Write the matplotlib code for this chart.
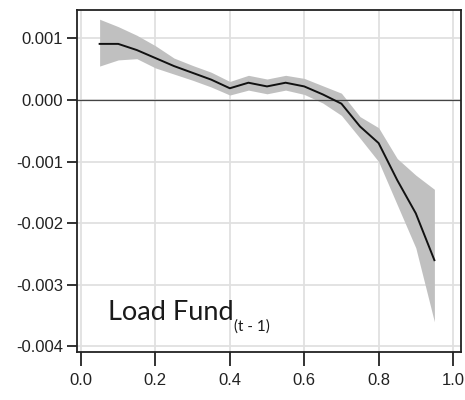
import matplotlib
matplotlib.use("Agg")
import matplotlib.pyplot as plt

# Quantile levels and estimated coefficient with its confidence band
quantiles = [0.05, 0.10, 0.15, 0.20, 0.25, 0.30, 0.35, 0.40, 0.45, 0.50,
             0.55, 0.60, 0.65, 0.70, 0.75, 0.80, 0.85, 0.90, 0.95]
coef = [0.00091, 0.00091, 0.00081, 0.00068, 0.00055, 0.00044, 0.00033, 0.00019,
        0.00028, 0.00022, 0.00028, 0.00022, 0.00009, -0.00006, -0.00043, -0.00070,
        -0.00130, -0.00184, -0.00260]
upper = [0.00131, 0.00119, 0.00105, 0.00088, 0.00068, 0.00056, 0.00045, 0.00030,
         0.00040, 0.00034, 0.00040, 0.00035, 0.00023, 0.00011, -0.00027, -0.00045,
         -0.00095, -0.00122, -0.00145]
lower = [0.00055, 0.00065, 0.00067, 0.00052, 0.00042, 0.00032, 0.00021, 0.00008,
         0.00016, 0.00010, 0.00016, 0.00009, -0.00005, -0.00025, -0.00062, -0.00100,
         -0.00170, -0.00240, -0.00360]

xticks = [0.0, 0.2, 0.4, 0.6, 0.8, 1.0]
yticks = [0.001, 0.000, -0.001, -0.002, -0.003, -0.004]
ytick_labels = ["0.001", "0.000", "-0.001", "-0.002", "-0.003", "-0.004"]
label_main = "Load Fund"
label_sub = "(t - 1)"

plt.rcParams['font.family'] = ['Liberation Sans', 'DejaVu Sans']

fig = plt.figure(figsize=(4.65, 4.0), dpi=100)
ax = fig.add_axes([0.1656, 0.12, 0.8258, 0.855])

ax.fill_between(quantiles, lower, upper, color="#c0c0c0", linewidth=0, zorder=2)
ax.plot(quantiles, coef, color="#111111", linewidth=1.4, zorder=3)
ax.axhline(0, color="#444444", linewidth=0.9, zorder=2.5)

ax.set_xlim(-0.0108, 1.0215)
ax.set_ylim(-0.00409, 0.00146)
ax.set_xticks(xticks)
ax.set_xticklabels([f"{v:.1f}" for v in xticks])
ax.set_yticks(yticks)
ax.set_yticklabels(ytick_labels)

ax.grid(True, color="#e0e0e0", linewidth=1.3, zorder=1)
ax.set_axisbelow(True)

for s in ax.spines.values():
    s.set_linewidth(1.3)
    s.set_color("#222222")

ax.tick_params(axis="x", length=10, width=1.3, pad=5, labelsize=12, colors="#222222")
ax.tick_params(axis="y", length=7, width=1.3, pad=3, labelsize=12, colors="#222222")

t1 = ax.text(0.08, 0.094, label_main, transform=ax.transAxes, fontsize=19.5,
             family=["Lato", "DejaVu Sans"], color="#1a1a1a", ha="left", va="baseline")
ax.annotate(label_sub, xy=(1, 0), xycoords=t1, xytext=(0.5, 4),
            textcoords="offset points", fontsize=11, family=["Lato", "DejaVu Sans"],
            color="#1a1a1a", ha="left", va="top")

fig.savefig("out.png", dpi=100)
